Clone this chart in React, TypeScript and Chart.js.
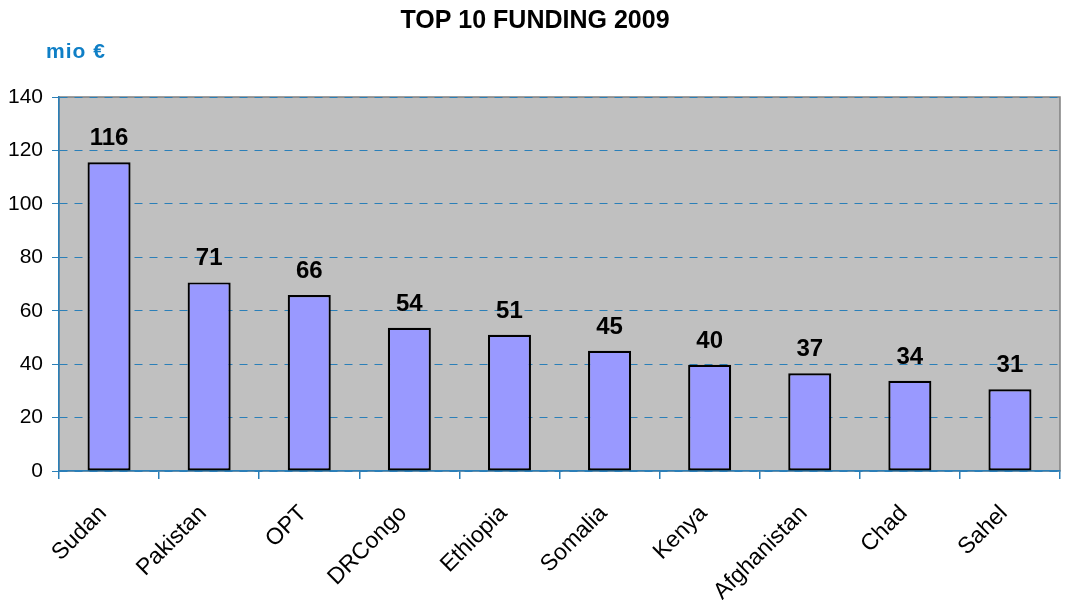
import React, { useEffect, useRef } from "react";
import { Chart, registerables } from "chart.js";

Chart.register(...registerables);

const categories = ["Sudan", "Pakistan", "OPT", "DRCongo", "Ethiopia", "Somalia", "Kenya", "Afghanistan", "Chad", "Sahel"];
const funding = [115.6, 70.6, 65.9, 53.6, 51.0, 45.0, 39.8, 36.6, 33.8, 30.6];
const chartTitle = "TOP 10 FUNDING 2009";
const unitLabel = "mio €";

const FONT = "'Liberation Sans', Arial, sans-serif";

export default function App() {
  const ref = useRef<HTMLCanvasElement | null>(null);
  useEffect(() => {
    document.body.style.margin = "0";
    const canvas = ref.current!;
    const bgPlugin = {
      id: "bg",
      beforeDraw(chart: any) {
        const { ctx, chartArea: a } = chart;
        ctx.save();
        ctx.fillStyle = "#c0c0c0";
        ctx.fillRect(a.left, a.top, a.right - a.left, a.bottom - a.top);
        ctx.strokeStyle = "#808080";
        ctx.lineWidth = 1.5;
        ctx.strokeRect(a.left, a.top, a.right - a.left, a.bottom - a.top);
        ctx.restore();
      },
      afterDraw(chart: any) {
        const { ctx } = chart;
        ctx.save();
        ctx.fillStyle = "#000";
        ctx.font = `bold 25px ${FONT}`;
        ctx.textAlign = "center";
        ctx.textBaseline = "middle";
        ctx.fillText(chartTitle, 535, 21);
        ctx.fillStyle = "#0f7fc6";
        ctx.font = `bold 21px ${FONT}`;
        ctx.textAlign = "left";
        ctx.textBaseline = "alphabetic";
        (ctx as any).letterSpacing = "1px";
        ctx.fillText(unitLabel, 46, 58);
        (ctx as any).letterSpacing = "0px";
        const meta = chart.getDatasetMeta(0);
        ctx.fillStyle = "#000";
        ctx.font = `bold 24px ${FONT}`;
        ctx.textAlign = "center";
        meta.data.forEach((bar: any, i: number) => {
          ctx.fillText(String(Math.round(funding[i])), bar.x, bar.y - 17);
        });
        ctx.restore();
      },
    };
    const chart = new Chart(canvas, {
      type: "bar",
      data: {
        labels: categories,
        datasets: [
          {
            data: funding,
            backgroundColor: "#9999ff",
            borderColor: "#000000",
            borderWidth: 2.2,
            borderSkipped: false,
            categoryPercentage: 1,
            barPercentage: 0.43,
          },
        ],
      },
      options: {
        responsive: false,
        animation: false,
        layout: { padding: { left: 0, right: 9, top: 97, bottom: 0 } },
        plugins: { legend: { display: false }, title: { display: false }, tooltip: { enabled: false } },
        scales: {
          x: {
            offset: true,
            grid: { offset: true, drawOnChartArea: false, color: "#2a7fb8", tickLength: 8, lineWidth: 1.5 },
            border: { color: "#2a7fb8", width: 1.5 },
            ticks: {
              color: "#000",
              font: { family: FONT, size: 23 },
              maxRotation: 45,
              minRotation: 45,
              padding: 21,
              labelOffset: -6,
            },
            afterFit(scale: any) {
              scale.height = 129;
            },
          },
          y: {
            min: 0,
            max: 140,
            ticks: { stepSize: 20, color: "#000", font: { family: FONT, size: 21 }, padding: 9 },
            grid: { color: "#2a7fb8", tickLength: 7, lineWidth: 1 },
            border: { color: "#2a7fb8", width: 1.5, dash: [8, 7] },
            afterFit(scale: any) {
              scale.width = 59;
            },
          },
        },
      },
      plugins: [bgPlugin],
    } as any);
    return () => chart.destroy();
  }, []);
  return (
    <div style={{ position: "absolute", left: 0, top: 0, width: 1069, height: 600 }}>
      <canvas ref={ref} width={1069} height={600} />
    </div>
  );
}
